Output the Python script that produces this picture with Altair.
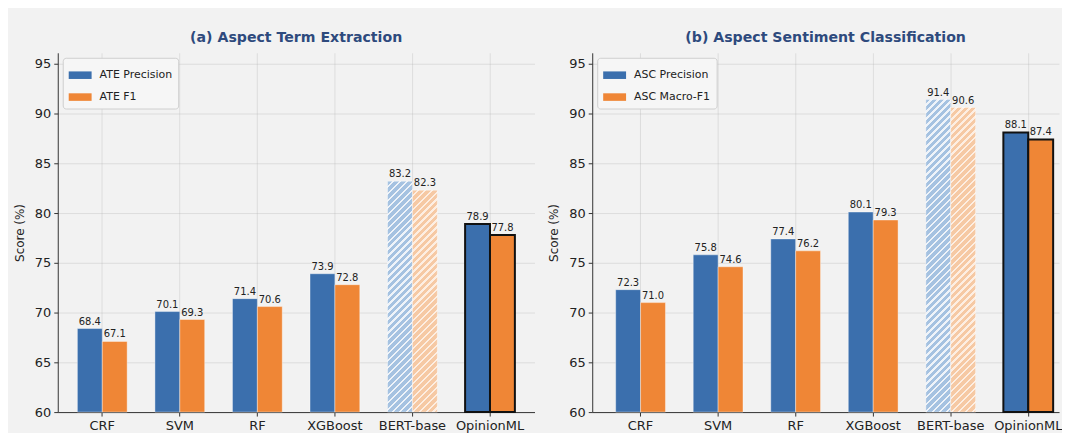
import altair as alt
import pandas as pd

models = ["CRF", "SVM", "RF", "XGBoost", "BERT-base", "OpinionML"]

ate_labels = ["ATE Precision", "ATE F1"]
ate_precision = [68.4, 70.1, 71.4, 73.9, 83.2, 78.9]
ate_f1 = [67.1, 69.3, 70.6, 72.8, 82.3, 77.8]

asc_labels = ["ASC Precision", "ASC Macro-F1"]
asc_precision = [72.3, 75.8, 77.4, 80.1, 91.4, 88.1]
asc_macro_f1 = [71.0, 74.6, 76.2, 79.3, 90.6, 87.4]

titles = ["(a) Aspect Term Extraction", "(b) Aspect Sentiment Classification"]
y_ticks = [60, 65, 70, 75, 80, 85, 90, 95]

BLUE = "#3b6fad"
ORANGE = "#ef8636"
HATCH_BASE = ["#a5c2e1", "#f6c9a4"]
HATCH_LINE = ["#eef3f9", "#fdeee2"]
BG = "#f2f2f2"
FONT = "DejaVu Sans"

Y_MIN, Y_MAX = 60, 96.1
PLOT_H = 361
P_INNER = 0.358


def hatch(base, stripe, w, h, period=7.0, frac=0.35):
    k = (w + h) / (w * w + h * h)
    n = (w + h) / period
    stops = []
    j = 0
    while j < n:
        a = min(j / n, 1.0)
        b = min((j + 1 - frac) / n, 1.0)
        c = min((j + 1) / n, 1.0)
        stops += [
            alt.GradientStop(offset=a, color=base),
            alt.GradientStop(offset=b, color=base),
            alt.GradientStop(offset=b, color=stripe),
            alt.GradientStop(offset=c, color=stripe),
        ]
        j += 1
    return alt.LinearGradient(gradient="linear", x1=0, y1=0, x2=k * w, y2=k * h, stops=stops)


def panel(title, labels, prec, f1, width, p_outer, align):
    rows = []
    for i, m in enumerate(models):
        rows.append({"model": m, "metric": labels[0], "order": 0, "value": prec[i]})
        rows.append({"model": m, "metric": labels[1], "order": 1, "value": f1[i]})
    df = pd.DataFrame(rows)

    step = width / (len(models) - P_INNER + 2 * p_outer)
    bar_w = step * (1 - P_INNER) / 2

    x = alt.X(
        "model:N",
        sort=models,
        scale=alt.Scale(paddingInner=P_INNER, paddingOuter=p_outer, align=align),
        axis=alt.Axis(
            title=None, labelAngle=0, bandPosition=0.5, grid=True,
            labelFontSize=13, labelPadding=3, tickSize=4,
        ),
    )
    y = alt.Y(
        "value:Q",
        scale=alt.Scale(domain=[Y_MIN, Y_MAX], nice=False, zero=False),
        axis=alt.Axis(
            title="Score (%)", values=y_ticks, grid=True, labelFontSize=13,
            tickSize=4, labelPadding=3, titleFontSize=12, titleFontWeight="normal",
            titlePadding=8,
        ),
    )
    base = alt.Chart(df).encode(x=x, xOffset=alt.XOffset("order:N"), y=y)

    is_op = "datum.model == 'OpinionML'"
    bars = base.transform_filter("datum.model != 'BERT-base'").mark_bar().encode(
        y2=alt.datum(Y_MIN),
        color=alt.Color(
            "metric:N",
            sort=labels,
            scale=alt.Scale(domain=labels, range=[BLUE, ORANGE]),
            legend=alt.Legend(
                title=None, orient="top-left", offset=5, padding=6,
                fillColor="#f6f6f6", strokeColor="#cfcfcf", cornerRadius=3,
                labelFontSize=11, labelColor="#222222", labelFont=FONT,
                symbolType="M-1,-0.33H1V0.33H-1Z", symbolSize=529,
                symbolStrokeWidth=0, rowPadding=5, labelOffset=8,
            ),
        ),
        stroke=alt.condition(is_op, alt.value("#111111"), alt.value("#ffffff")),
        strokeWidth=alt.condition(is_op, alt.value(2), alt.value(0.4)),
    )

    layers = [bars]
    for o in (0, 1):
        v = (prec if o == 0 else f1)[models.index("BERT-base")]
        h = (v - Y_MIN) / (Y_MAX - Y_MIN) * PLOT_H
        grad = hatch(HATCH_BASE[o], HATCH_LINE[o], bar_w, h)
        layers.append(
            base.transform_filter(f"datum.model == 'BERT-base' && datum.order == {o}")
            .mark_bar(color=grad, stroke="#ffffff", strokeWidth=0.4)
            .encode(y2=alt.datum(Y_MIN))
        )

    text = base.mark_text(baseline="bottom", dy=-2, fontSize=10, color="#222222", font=FONT).encode(
        text=alt.Text("value:Q", format=".1f")
    )
    layers.append(text)

    return alt.layer(*layers).properties(
        width=width,
        height=PLOT_H,
        title=alt.TitleParams(
            title, fontSize=14.2, fontWeight="bold", color="#2e4a7d",
            anchor="middle", offset=8, font=FONT,
        ),
    )


left = panel(titles[0], ate_labels, ate_precision, ate_f1, 479, 0.253, 0.5)
right = panel(titles[1], asc_labels, asc_precision, asc_macro_f1, 469, 0.189, 0.8)

chart = (
    alt.hconcat(left, right, spacing=13)
    .resolve_scale(color="independent", x="independent")
    .properties(background=BG, padding={"left": 5, "top": 21, "right": 0, "bottom": 0})
    .configure_view(stroke=None, fill=BG)
    .configure_axis(
        labelFont=FONT, titleFont=FONT, labelColor="#222222", titleColor="#222222",
        domainColor="#333333", tickColor="#333333", domainWidth=1, tickWidth=1,
        gridColor="#a8a8a8", gridOpacity=0.35, gridWidth=0.8, zindex=1,
    )
)

chart.save("out.html", embed_options={"renderer": "svg", "actions": False})
